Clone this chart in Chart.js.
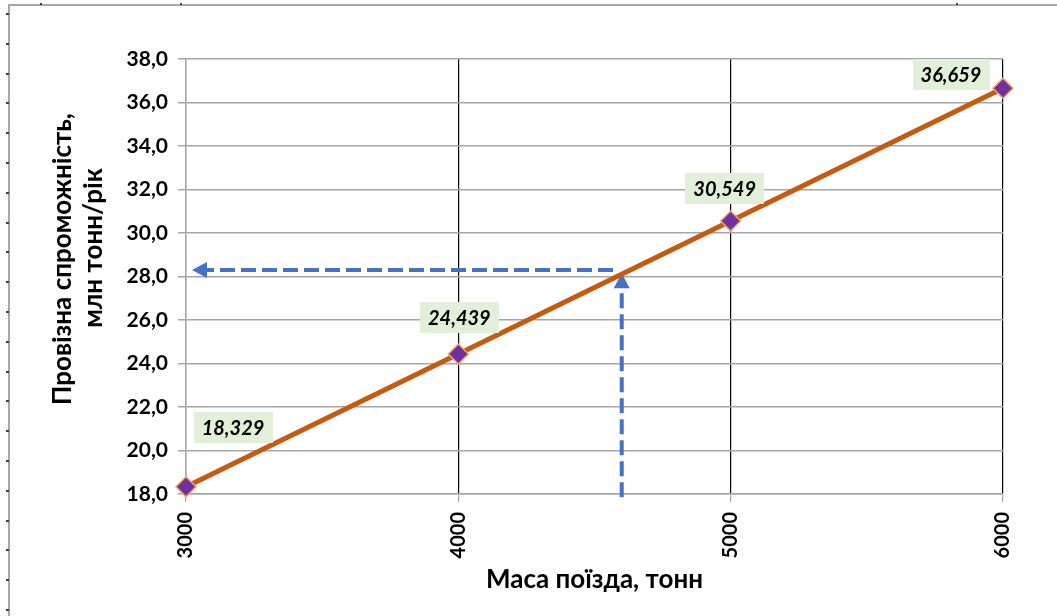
<!DOCTYPE html>
<html>
<head>
<meta charset="utf-8">
<script src="https://cdn.jsdelivr.net/npm/chart.js@4/dist/chart.umd.min.js"></script>
<style>
  html, body { margin: 0; padding: 0; background: #ffffff; }
  #wrap { position: relative; width: 1057px; height: 616px; }
  canvas { display: block; }
</style>
</head>
<body>
<div id="wrap"><canvas id="chart" width="1057" height="616"></canvas></div>
<script>
// Train mass (t) and the resulting annual transport capacity (mln t/year)
const trainMass = [3000, 4000, 5000, 6000];
const capacity = [18.329, 24.439, 30.549, 36.659];
const capacityLabels = ['18,329', '24,439', '30,549', '36,659'];

// Axis tick values
const massTicks = [3000, 4000, 5000, 6000];
const capacityTicks = [18, 20, 22, 24, 26, 28, 30, 32, 34, 36, 38];

// Reading guide: from the 4600 t mass up to the line, then across to the axis
const guideUp = { mass: [4600, 4600], capacity: [17.85, 28.15] };
const guideAcross = { mass: [4568, 3022], capacity: [28.3, 28.3] };

const xTitle = 'Маса поїзда, тонн';
const yTitle = ['Провізна спроможність,', 'млн тонн/рік'];

// Label box offsets from each point (px), placed by hand
const labelOffsets = [[47, -59], [1, -36], [-6, -33], [-52, -14]];

const FONT = 'Lato, "Open Sans", sans-serif';
const GUIDE_BLUE = '#4472c4';

function fmtComma(v, digits) {
  return v.toFixed(digits).replace('.', ',');
}

// Sheet frame around the chart
const framePlugin = {
  id: 'frame',
  beforeDraw(chart) {
    const ctx = chart.ctx;
    ctx.save();
    ctx.fillStyle = '#ffffff';
    ctx.fillRect(0, 0, chart.width, chart.height);
    ctx.strokeStyle = '#a6a6a6';
    ctx.lineWidth = 2;
    ctx.beginPath();
    ctx.moveTo(9, chart.height);
    ctx.lineTo(9, 5);
    ctx.lineTo(chart.width, 5);
    ctx.stroke();
    ctx.fillStyle = '#404040';
    for (let y = 13; y < chart.height; y += 29.8) {
      ctx.fillRect(6, Math.round(y), 3, 2);
    }
    [40, 180, 956].forEach(x => ctx.fillRect(x, 3, 2, 2));
    ctx.restore();
  }
};

function drawArrow(ctx, x1, y1, x2, y2) {
  const ang = Math.atan2(y2 - y1, x2 - x1);
  const headLen = 15, headHalf = 8;
  const bx = x2 - Math.cos(ang) * headLen;
  const by = y2 - Math.sin(ang) * headLen;
  ctx.save();
  ctx.strokeStyle = GUIDE_BLUE;
  ctx.lineWidth = 4;
  ctx.setLineDash([15, 6]);
  ctx.beginPath();
  ctx.moveTo(x1, y1);
  ctx.lineTo(bx, by);
  ctx.stroke();
  ctx.setLineDash([]);
  ctx.fillStyle = GUIDE_BLUE;
  ctx.beginPath();
  ctx.moveTo(x2, y2);
  ctx.lineTo(bx + Math.sin(ang) * headHalf, by - Math.cos(ang) * headHalf);
  ctx.lineTo(bx - Math.sin(ang) * headHalf, by + Math.cos(ang) * headHalf);
  ctx.closePath();
  ctx.fill();
  ctx.restore();
}

// Dashed reading guide with arrowheads
const guidePlugin = {
  id: 'guide',
  beforeDatasetsDraw(chart) {
    const { ctx, scales: { x, y } } = chart;
    drawArrow(ctx,
      x.getPixelForValue(guideUp.mass[0]), y.getPixelForValue(guideUp.capacity[0]),
      x.getPixelForValue(guideUp.mass[1]), y.getPixelForValue(guideUp.capacity[1]));
    drawArrow(ctx,
      x.getPixelForValue(guideAcross.mass[0]), y.getPixelForValue(guideAcross.capacity[0]),
      x.getPixelForValue(guideAcross.mass[1]), y.getPixelForValue(guideAcross.capacity[1]));
  }
};

// Value labels in light green boxes
const valueLabelPlugin = {
  id: 'valueLabels',
  afterDatasetsDraw(chart) {
    const ctx = chart.ctx;
    const meta = chart.getDatasetMeta(0);
    ctx.save();
    ctx.font = 'italic bold 20px ' + FONT;
    ctx.textAlign = 'center';
    ctx.textBaseline = 'middle';
    meta.data.forEach((pt, i) => {
      const cx = pt.x + labelOffsets[i][0];
      const cy = pt.y + labelOffsets[i][1];
      const text = capacityLabels[i];
      const w = ctx.measureText(text).width + 16;
      const h = 31;
      ctx.fillStyle = '#e2efda';
      ctx.fillRect(Math.round(cx - w / 2), Math.round(cy - h / 2), Math.round(w), h);
      ctx.fillStyle = '#000000';
      ctx.fillText(text, cx, cy + 1);
    });
    ctx.restore();
  }
};

// Two-line vertical title of the value axis
const yTitlePlugin = {
  id: 'yTitle',
  afterDraw(chart) {
    const ctx = chart.ctx;
    ctx.save();
    ctx.font = 'bold 26px ' + FONT;
    ctx.fillStyle = '#000000';
    ctx.textAlign = 'center';
    ctx.textBaseline = 'middle';
    ctx.translate(63, 259);
    ctx.rotate(-Math.PI / 2);
    ctx.fillText(yTitle[0], 0, 0);
    ctx.fillText(yTitle[1], 11, 31);
    ctx.restore();
  }
};

new Chart(document.getElementById('chart'), {
  type: 'line',
  data: {
    datasets: [{
      data: trainMass.map((m, i) => ({ x: m, y: capacity[i] })),
      borderColor: '#c55a11',
      borderWidth: 5,
      tension: 0,
      pointStyle: 'rectRot',
      pointRadius: 10,
      pointHoverRadius: 10,
      pointBackgroundColor: '#7030a0',
      pointBorderColor: '#f4a460',
      pointBorderWidth: 1.5,
      clip: false
    }]
  },
  options: {
    responsive: false,
    animation: false,
    events: [],
    layout: { padding: { left: 0, top: 59, right: 54, bottom: 0 } },
    plugins: {
      legend: { display: false },
      tooltip: { enabled: false }
    },
    scales: {
      x: {
        type: 'linear',
        min: massTicks[0],
        max: massTicks[massTicks.length - 1],
        afterBuildTicks(scale) {
          scale.ticks = massTicks.map(v => ({ value: v }));
        },
        afterFit(scale) { scale.height = 122; },
        border: { display: true, color: '#a6a6a6', width: 1.5 },
        grid: {
          color: ctx => (ctx.tick && ctx.tick.value === massTicks[0]) ? '#a6a6a6' : '#000000',
          lineWidth: 1.2,
          tickLength: 8,
          tickColor: '#a6a6a6',
          drawTicks: true
        },
        ticks: {
          autoSkip: false,
          minRotation: 90,
          maxRotation: 90,
          padding: 10,
          color: '#000000',
          font: { family: FONT, size: 20, weight: 'bold' },
          callback: v => String(v)
        },
        title: {
          display: true,
          text: xTitle,
          color: '#000000',
          font: { family: FONT, size: 26, weight: 'bold' },
          padding: { top: 0, bottom: 21 }
        }
      },
      y: {
        min: capacityTicks[0],
        max: capacityTicks[capacityTicks.length - 1],
        afterBuildTicks(scale) {
          scale.ticks = capacityTicks.map(v => ({ value: v }));
        },
        afterFit(scale) { scale.width = 186; },
        border: { display: true, color: '#a6a6a6', width: 1.5 },
        grid: {
          color: '#a6a6a6',
          lineWidth: 1.5,
          tickLength: 8,
          tickColor: '#a6a6a6'
        },
        ticks: {
          padding: 10,
          color: '#000000',
          font: { family: FONT, size: 21, weight: 'bold' },
          callback: v => fmtComma(v, 1)
        },
        title: { display: false }
      }
    }
  },
  plugins: [framePlugin, guidePlugin, valueLabelPlugin, yTitlePlugin]
});
</script>
</body>
</html>
